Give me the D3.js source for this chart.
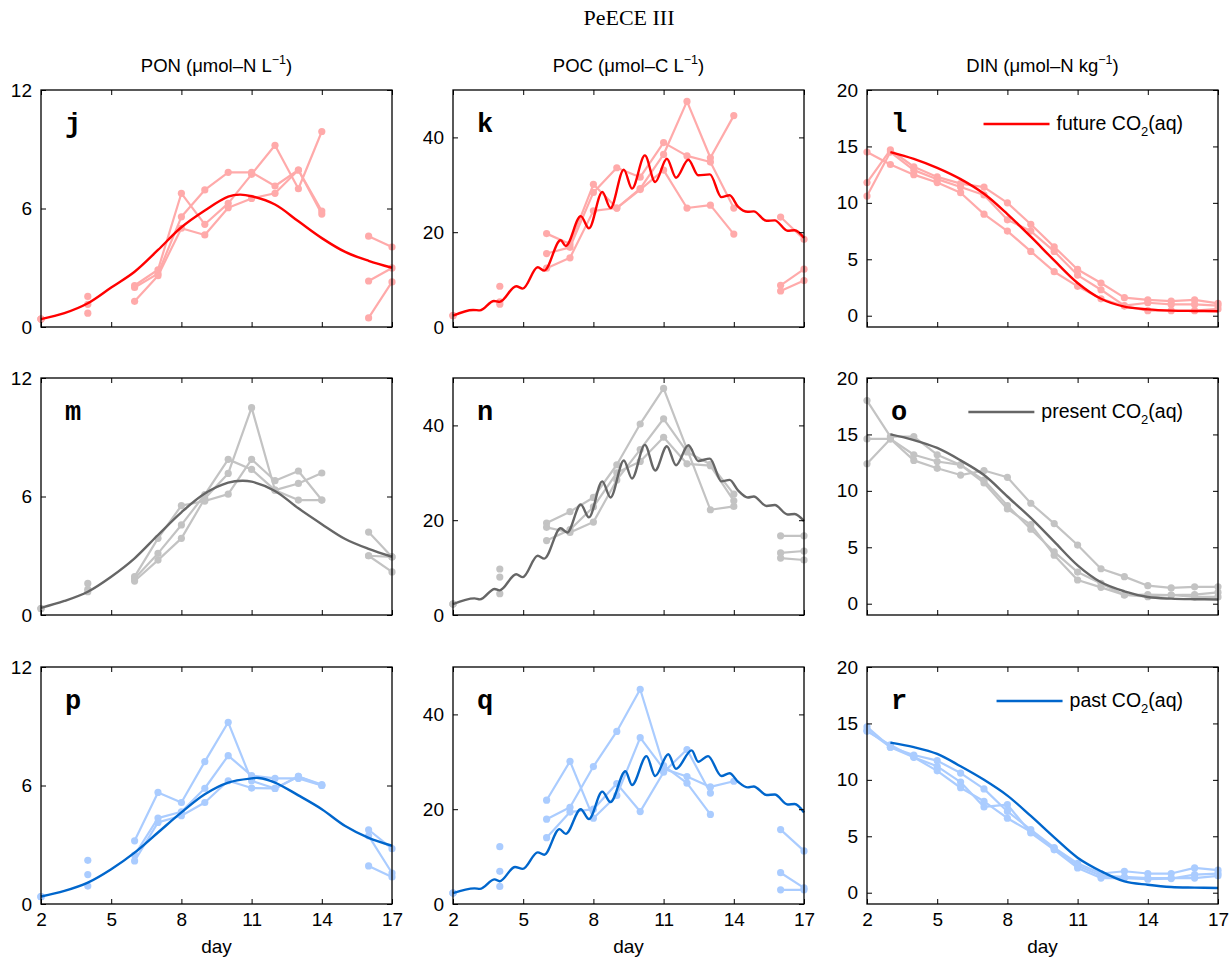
<!DOCTYPE html>
<html>
<head>
<meta charset="utf-8">
<script src="https://cdn.jsdelivr.net/npm/d3@7"></script>
<style>
body { margin: 0; background: #fff; }
svg text { font-family: "Liberation Sans", Arial, Helvetica, sans-serif; }
</style>
</head>
<body>
<svg id="chart" width="1232" height="965"></svg>
<script>
// days of the experiment, one value per day in every observation array
let days = d3.range(2, 18);
let dayTicks = [2, 5, 8, 11, 14, 17];
let colTitles = [["PON (μmol–N L", ")"], ["POC (μmol–C L", ")"], ["DIN (μmol–N kg", ")"]];
let panelLetters = [["j", "k", "l"], ["m", "n", "o"], ["p", "q", "r"]];
let legendNames = ["future", "present", "past"];
let yDomains = [[0, 12], [0, 50], [-1, 20]];
let yTicks = [[0, 6, 12], [0, 20, 40], [0, 5, 10, 15, 20]];

// ---- PON observations (3 mesocosms per treatment) ----
let ponFuture1 = [0.4, null, 1.55, null, 2.1, 2.9, 6.77, 5.2, 6.26, 7.73, 9.2, 7.0, 9.9, null, 4.6, 4.05];
let ponFuture2 = [0.4, null, 0.7, null, 2.0, 2.7, 5.58, 6.94, 7.83, 7.83, 7.14, 7.95, 5.87, null, 2.33, 2.99];
let ponFuture3 = [0.4, null, 1.15, null, 1.3, 2.6, 5.0, 4.66, 6.04, 6.51, 6.77, 7.95, 5.72, null, 0.46, 2.28];
let ponPresent1 = [0.33, null, 1.6, null, 1.94, 3.88, 5.54, 5.77, 6.12, 7.88, 6.8, 7.29, 5.82, null, 4.2, 2.94];
let ponPresent2 = [0.33, null, 1.3, null, 1.85, 3.12, 4.56, 6.1, 7.88, 7.37, 6.32, 6.66, 7.19, null, 3.0, 2.94];
let ponPresent3 = [0.33, null, 1.18, null, 1.72, 2.78, 3.88, 5.9, 7.17, 10.5, 6.32, 5.82, 5.82, null, 3.0, 2.18];
let ponPast1 = [0.37, null, 2.21, null, 3.2, 5.65, 5.14, 7.21, 9.2, 6.24, 5.85, 6.46, 6.05, null, 3.76, 2.8];
let ponPast2 = [0.37, null, 1.49, null, 2.48, 4.35, 4.67, 5.86, 7.51, 6.5, 6.36, 6.36, 6.0, null, 3.45, 1.57];
let ponPast3 = [0.37, null, 0.91, null, 2.18, 4.13, 4.47, 5.14, 6.24, 5.87, 5.85, 6.46, 6.0, null, 1.93, 1.37];

// ---- POC observations ----
let pocFuture1 = [2.4, null, 8.6, null, 19.7, 17.5, 30.1, 25.1, 29.2, 36.4, 47.6, 35.7, 44.6, null, 23.2, 18.5];
let pocFuture2 = [2.4, null, 5.3, null, 15.5, 16.8, 28.4, 33.6, 31.6, 38.9, 36.1, 34.8, 25.1, null, 8.8, 12.2];
let pocFuture3 = [2.4, null, 4.8, null, 12.4, 14.6, 24.5, 25.1, 29.0, 33.1, 25.1, 25.7, 19.6, null, 7.6, 9.8];
let pocPresent1 = [2.3, null, 9.7, null, 19.4, 21.8, 24.8, 31.7, 40.3, 47.8, 35.0, 22.2, 22.9, null, 16.7, 16.7];
let pocPresent2 = [2.3, null, 8.0, null, 18.5, 17.4, 19.6, 28.5, 34.9, 41.4, 34.4, 31.8, 25.5, null, 13.1, 13.5];
let pocPresent3 = [2.3, null, 4.5, null, 15.7, 18.0, 22.8, 30.0, 32.4, 37.5, 31.9, 31.5, 24.1, null, 12.0, 11.6];
let pocPast1 = [2.3, null, 12.1, null, 21.9, 30.1, 18.1, 22.9, 35.1, 28.5, 26.9, 24.7, 25.9, null, 15.7, 11.2];
let pocPast2 = [2.3, null, 6.9, null, 17.9, 20.4, 29.0, 36.4, 45.3, 29.2, 25.5, 18.9, null, null, 6.6, 3.4];
let pocPast3 = [2.3, null, 3.7, null, 14.0, 19.4, 20.0, 25.4, 19.5, 27.8, 32.6, 23.4, null, null, 3.0, 3.0];

// ---- DIN observations ----
let dinFuture1 = [14.5, 13.4, 12.5, 11.8, 10.9, 9.0, 7.5, 5.7, 3.9, 2.6, 1.5, 0.85, 0.45, 0.45, 0.45, 0.6];
let dinFuture2 = [11.8, 14.7, 13.2, 12.3, 11.7, 11.4, 10.0, 8.1, 6.1, 4.1, 2.9, 1.6, 1.4, 1.3, 1.4, 1.1];
let dinFuture3 = [10.6, 14.5, 12.9, 12.1, 11.4, 10.7, 8.5, 7.5, 5.7, 3.6, 2.3, 0.9, 1.15, 1.0, 1.0, 0.9];
let dinPresent1 = [18.0, 14.8, 14.8, 13.2, 12.3, 10.95, 8.7, 6.6, 4.6, 2.8, 1.8, 0.77, 0.8, 0.77, 0.8, 1.0];
let dinPresent2 = [14.6, 14.6, 13.2, 12.6, 12.3, 10.7, 8.4, 7.0, 4.3, 2.1, 1.45, 0.77, 0.62, 0.77, 0.6, 0.6];
let dinPresent3 = [12.4, 14.6, 12.7, 12.0, 11.4, 11.8, 11.2, 8.9, 7.1, 5.2, 3.1, 2.4, 1.6, 1.4, 1.5, 1.5];
let dinPast1 = [14.7, 12.9, 12.2, 11.7, 10.6, 9.2, 7.2, 5.6, 4.0, 2.6, 1.7, 1.9, 1.7, 1.7, 2.2, 2.0];
let dinPast2 = [14.3, 13.1, 12.0, 11.2, 9.8, 7.6, 7.8, 5.3, 3.8, 2.2, 1.3, 1.3, 1.2, 1.25, 1.6, 1.7];
let dinPast3 = [14.4, 12.9, 12.0, 10.8, 9.3, 8.1, 6.6, 5.4, 3.9, 2.4, 1.5, 1.4, 1.3, 1.3, 1.3, 1.5];

// ---- model runs, [day, value] ----
let ponFutureModel = [[2,0.4],[3,0.7],[4,1.2],[5,2.0],[6,2.8],[7,3.9],[8,5.05],[9,5.9],[10,6.6],[10.5,6.7],[11,6.62],[12,6.2],[13,5.35],[14,4.5],[15,3.8],[16,3.35],[17,3.0]];
let ponPresentModel = [[2,0.36],[3,0.71],[4,1.18],[5,1.94],[6,2.87],[7,4.05],[8,5.2],[9,6.15],[10,6.7],[10.6,6.8],[11,6.75],[12,6.28],[13,5.4],[14,4.6],[15,3.85],[16,3.35],[17,2.95]];
let ponPastModel = [[2,0.38],[3,0.66],[4,1.08],[5,1.76],[6,2.6],[7,3.62],[8,4.64],[9,5.56],[10,6.15],[11,6.36],[11.3,6.38],[12,6.15],[13,5.5],[14,4.8],[15,3.95],[16,3.35],[17,2.95]];

let pocFutureModel = [[2,2.4],[2.86,3.6],[3.15,3.5],[3.75,5.5],[3.99,5.3],[4.7,8.6],[4.98,8.1],[5.62,12.6],[5.9,11.9],[6.6,18.3],[6.82,17.1],[7.46,23.4],[7.81,20.8],[8.38,28.5],[8.73,25.1],[9.3,33.2],[9.65,29.2],[10.2,36.2],[10.64,30.6],[11.14,35.5],[11.53,31.5],[12.06,35.3],[12.48,32.0],[12.98,32.2],[13.47,27.4],[13.82,27.8],[14.18,25.4],[14.6,24.3],[14.85,24.4],[15.4,22.4],[15.75,22.5],[16.3,20.3],[16.6,20.4],[17,18.8]];
let pocPresentModel = [[2,2.3],[2.92,3.5],[3.15,3.3],[3.78,5.5],[3.99,5.2],[4.7,8.6],[4.98,8.0],[5.62,12.5],[5.9,11.9],[6.6,18.3],[6.88,17.4],[7.46,23.3],[7.81,20.6],[8.38,28.2],[8.73,24.8],[9.3,32.6],[9.65,28.8],[10.2,35.9],[10.64,30.5],[11.14,35.6],[11.53,31.6],[12.06,35.8],[12.48,32.5],[12.98,33.0],[13.47,28.2],[13.82,28.5],[14.18,26.3],[14.6,24.8],[14.85,25.0],[15.4,23.0],[15.75,23.2],[16.3,21.2],[16.6,21.3],[17,19.8]];
let pocPastModel = [[2,2.3],[2.92,3.3],[3.15,3.2],[3.78,5.2],[3.99,4.8],[4.65,7.8],[4.98,7.4],[5.62,10.9],[5.9,10.4],[6.55,15.8],[6.82,14.8],[7.46,20.0],[7.81,17.9],[8.38,23.7],[8.73,21.5],[9.37,28.0],[9.65,25.1],[10.27,31.2],[10.64,27.0],[11.2,31.6],[11.53,28.5],[12.2,32.4],[12.48,30.0],[12.9,31.2],[13.47,27.0],[13.82,27.6],[14.18,25.8],[14.6,24.6],[14.85,24.8],[15.4,23.0],[15.75,23.1],[16.3,21.0],[16.6,21.1],[17,19.3]];

let dinFutureModel = [[3,14.5],[4,13.9],[5,13.1],[6,12.1],[7,10.8],[8,9.0],[9,7.0],[10,4.9],[11,2.9],[12,1.5],[13,0.8],[14,0.56],[15,0.45],[16,0.42],[17,0.4]];
let dinPresentModel = [[3,15.0],[4,14.5],[5,13.8],[6,12.7],[7,11.4],[8,9.5],[9,7.6],[10,5.5],[11,3.4],[12,1.9],[13,1.1],[14,0.6],[15,0.45],[16,0.4],[17,0.38]];
let dinPastModel = [[3,13.3],[4,12.9],[5,12.3],[6,11.2],[7,10.0],[8,8.6],[9,6.8],[10,4.9],[11,3.1],[12,1.9],[13,1.0],[14,0.7],[15,0.5],[16,0.45],[17,0.42]];

// rows = treatments, cols = variables
let obsData = [
    [[ponFuture1, ponFuture2, ponFuture3], [pocFuture1, pocFuture2, pocFuture3], [dinFuture1, dinFuture2, dinFuture3]],
    [[ponPresent1, ponPresent2, ponPresent3], [pocPresent1, pocPresent2, pocPresent3], [dinPresent1, dinPresent2, dinPresent3]],
    [[ponPast1, ponPast2, ponPast3], [pocPast1, pocPast2, pocPast3], [dinPast1, dinPast2, dinPast3]]
];
let modelData = [
    [ponFutureModel, pocFutureModel, dinFutureModel],
    [ponPresentModel, pocPresentModel, dinPresentModel],
    [ponPastModel, pocPastModel, dinPastModel]
];

let modelColors = ["#ff0000", "#666666", "#0066cc"];
let obsColors = ["#ffaaaa", "#c3c3c3", "#aaccff"];

let colLeft = [41, 453, 867];
let rowTop = [90, 378, 667];
let panelW = 351, panelH = 237;

let svg = d3.select("#chart");

svg.append("text")
    .text("PeECE III")
    .attr("x", 629)
    .attr("y", 25)
    .attr("text-anchor", "middle")
    .attr("font-size", 22)
    .style("font-family", "'Liberation Serif', 'Times New Roman', serif");

colTitles.forEach((t, c) => {
    let tt = svg.append("text")
        .attr("x", colLeft[c] + panelW / 2)
        .attr("y", 72)
        .attr("text-anchor", "middle")
        .attr("font-size", 18.5);
    tt.append("tspan").text(t[0]);
    tt.append("tspan").text("−1").attr("dy", -8).attr("font-size", 12.5);
    tt.append("tspan").text(t[1]).attr("dy", 8);
});

for (let r = 0; r < 3; r++) {
    for (let c = 0; c < 3; c++) {
        let g = svg.append("g")
            .attr("transform", "translate(" + colLeft[c] + "," + rowTop[r] + ")");

        let x = d3.scaleLinear().domain([2, 17]).range([0, panelW]);
        let y = d3.scaleLinear().domain(yDomains[c]).range([panelH, 0]);

        let obsLine = d3.line()
            .defined(p => p.v != null)
            .x(p => x(p.d))
            .y(p => y(p.v));

        obsData[r][c].forEach(series => {
            let pts = days.map((d, i) => ({d: d, v: series[i]}));
            g.append("path")
                .datum(pts)
                .attr("d", obsLine)
                .attr("fill", "none")
                .attr("stroke", obsColors[r])
                .attr("stroke-width", 2.2)
                .attr("stroke-linejoin", "round");
            g.selectAll(null)
                .data(pts.filter(p => p.v != null))
                .enter().append("circle")
                .attr("cx", p => x(p.d))
                .attr("cy", p => y(p.v))
                .attr("r", 3.6)
                .attr("fill", obsColors[r]);
        });

        // POC model wiggles daily, keep peaks flat; the others are smooth
        let curve = c === 1 ? d3.curveMonotoneX : d3.curveCatmullRom.alpha(0.5);
        g.append("path")
            .datum(modelData[r][c])
            .attr("d", d3.line().curve(curve).x(p => x(p[0])).y(p => y(p[1])))
            .attr("fill", "none")
            .attr("stroke", modelColors[r])
            .attr("stroke-width", 2.4);

        // axes, ticks pointing inward on every side
        let bottom = g.append("g")
            .attr("transform", "translate(0," + panelH + ")")
            .call(d3.axisBottom(x).tickValues(dayTicks).tickSizeInner(-5).tickSizeOuter(0).tickPadding(9)
                .tickFormat(r === 2 ? d3.format("d") : ""));
        g.append("g")
            .call(d3.axisTop(x).tickValues(dayTicks).tickSizeInner(-5).tickSizeOuter(0).tickFormat(""));
        let left = g.append("g")
            .call(d3.axisLeft(y).tickValues(yTicks[c]).tickSizeInner(-5).tickSizeOuter(0).tickPadding(9));
        g.append("g")
            .attr("transform", "translate(" + panelW + ",0)")
            .call(d3.axisRight(y).tickValues(yTicks[c]).tickSizeInner(-5).tickSizeOuter(0).tickFormat(""));

        g.selectAll(".domain").remove();
        g.selectAll(".tick line").attr("stroke", "#000");
        [bottom, left].forEach(a => a.selectAll("text")
            .attr("font-size", 19)
            .style("font-family", "'Liberation Sans', Arial, sans-serif")
            .attr("fill", "#000"));

        g.append("rect")
            .attr("width", panelW)
            .attr("height", panelH)
            .attr("fill", "none")
            .attr("stroke", "#000")
            .attr("stroke-width", 1.3);

        g.append("text")
            .text(panelLetters[r][c])
            .attr("x", 24)
            .attr("y", 42)
            .attr("font-size", 27)
            .attr("font-weight", "bold")
            .style("font-family", "'Liberation Mono', 'Courier New', monospace");

        if (r === 2) {
            g.append("text")
                .text("day")
                .attr("x", panelW / 2)
                .attr("y", panelH + 49)
                .attr("text-anchor", "middle")
                .attr("font-size", 19);
        }

        // legend in the DIN column
        if (c === 2) {
            let lg = g.append("text")
                .attr("x", 316)
                .attr("y", 40)
                .attr("text-anchor", "end")
                .attr("font-size", 19.5);
            lg.append("tspan").text(legendNames[r] + " CO");
            lg.append("tspan").text("2").attr("dy", 6).attr("font-size", 13);
            lg.append("tspan").text("(aq)").attr("dy", -6);
            let w = lg.node().getComputedTextLength();
            let x2 = 316 - w - 7;
            g.append("line")
                .attr("x1", x2 - 66)
                .attr("x2", x2)
                .attr("y1", 34)
                .attr("y2", 34)
                .attr("stroke", modelColors[r])
                .attr("stroke-width", 2.4);
        }
    }
}
</script>
</body>
</html>
